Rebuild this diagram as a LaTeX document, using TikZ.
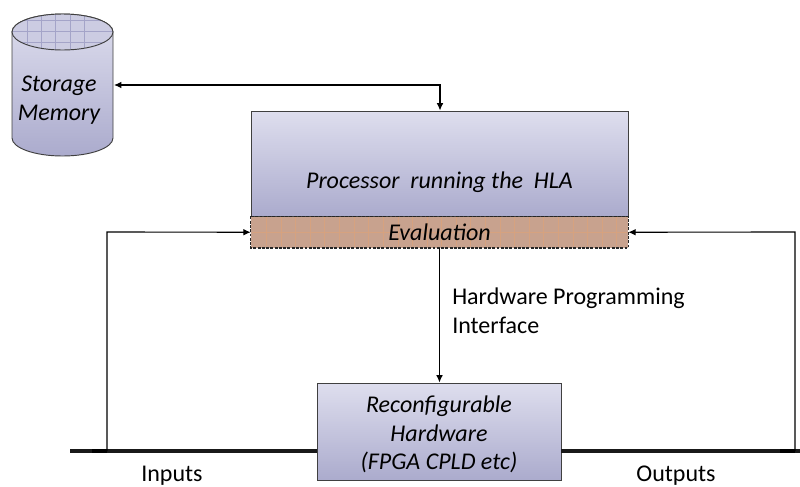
\documentclass[tikz,border=0pt]{standalone}
\usepackage{fontspec}
\setmainfont{Carlito}
\usetikzlibrary{calc, positioning, arrows.meta}
\definecolor{blocktop}{HTML}{DEDEEE}
\definecolor{blockbot}{HTML}{ABABCD}
\definecolor{evalfill}{HTML}{C8A28E}
\definecolor{evalgrid}{HTML}{D6A27F}
\definecolor{memgrid}{HTML}{A4A4C8}
\tikzset{
  blockbox/.style={draw=black!75, line width=.7pt, top color=blocktop, bottom color=blockbot, inner sep=0pt},
  blocktext/.style={font=\fontsize{18}{21.5}\selectfont\itshape, align=center},
  link/.style={-{Latex[length=5.5pt,width=5pt]}, line width=.85pt},
  biglink/.style={{Latex[length=5.5pt,width=5pt]}-{Latex[length=5.5pt,width=5pt]}, line width=.85pt},
  busline/.style={line width=3pt, black!90},
  tapline/.style={line width=3.4pt, black},
  gridline/.style={evalgrid, line width=.25pt}
}
\begin{document}
\begin{tikzpicture}[x=0.75pt, y=-0.75pt, font=\fontsize{18}{21.5}\selectfont]
  \useasboundingbox (0,0) rectangle (800,486);
  % memory %
  \path[top color=blocktop, bottom color=blockbot, draw=black!75, line width=.7pt]
    (12,32) -- (12,138) arc[x radius=50.5, y radius=18, start angle=180, end angle=0]
    -- (113,32) arc[x radius=50.5, y radius=18, start angle=0, end angle=-180] -- cycle;
  \begin{scope}
    \clip (62.5,32) ellipse[x radius=50.5, y radius=18];
    \fill[blocktop!65!blockbot] (12,14) rectangle (113,50);
    \foreach \x in {27,41,55,70,84} \draw[memgrid, line width=.25pt] (\x,14) -- (\x,50);
    \foreach \y in {20,31,42} \draw[memgrid, line width=.25pt] (12,\y) -- (113,\y);
  \end{scope}
  \draw[black!75, line width=.7pt] (62.5,32) ellipse[x radius=50.5, y radius=18];

  % nodes %
  \node[blocktext] (mem) at (59,100) {Storage\\Memory};
  \coordinate (memport) at (114,85);
  \node[blockbox, minimum width=282.75pt, minimum height=78.75pt] (cpu) at (439.5,163.5) {};
  \node[blocktext] (cputext) at (439.5,182) {Processor\ \ running the\ \ HLA};
  \node[fill=evalfill, minimum width=282.75pt, minimum height=23.25pt, inner sep=0pt, below=0pt of cpu] (eval) {};
  \foreach \x in {266,281,295,310,324,339,354,368,383,398,412,427,441,456,470,485,500,514,529,543,558,573,587,602,616}
    \draw[gridline] (\x,217) -- (\x,246);
  \draw[gridline] (252,232) -- (627,232);
  \draw[black!85, line width=.8pt, dash pattern=on 2.2pt off 1pt] (eval.north west) rectangle (eval.south east);
  \node[blocktext] (evaltext) at (eval.center) {Evaluation};
  \node[blockbox, minimum width=183pt, minimum height=72.75pt] (hw) at (439,431.5) {};
  \node[blocktext] (hwtext) at (439,434.5) {Reconfigurable\\Hardware\\(FPGA CPLD etc)};
  \coordinate (busl) at (70,451);
  \coordinate (busr) at (800,451);
  \coordinate (tapl) at (107,451);
  \coordinate (tapr) at (795,451);
  \coordinate (stubl) at (92,451);
  \coordinate (stubr) at (780,451);
  \node (inputs) at (172,476) {Inputs};
  \node (outputs) at (676,476) {Outputs};
  \node[align=left, anchor=west, inner sep=0pt] (hpi) at (452,311) {Hardware Programming\\Interface};

  % edges %
  \draw[busline] (busl) -- (hw.west |- busl);
  \draw[busline] (hw.east |- busr) -- (busr);
  \draw[tapline] (stubl) -- (tapl);
  \draw[tapline] (stubr) -- (tapr);
  \draw[link] (tapl) -- (107,232) -- (eval.west);
  \draw[link] (tapr) -- (795,232) -- (eval.east);
  \draw[link] (eval.south) -- (hw.north -| eval.south);
  \draw[biglink] (memport) -- (440,85) -- (cpu.north -| 440,0);
\end{tikzpicture}
\end{document}
